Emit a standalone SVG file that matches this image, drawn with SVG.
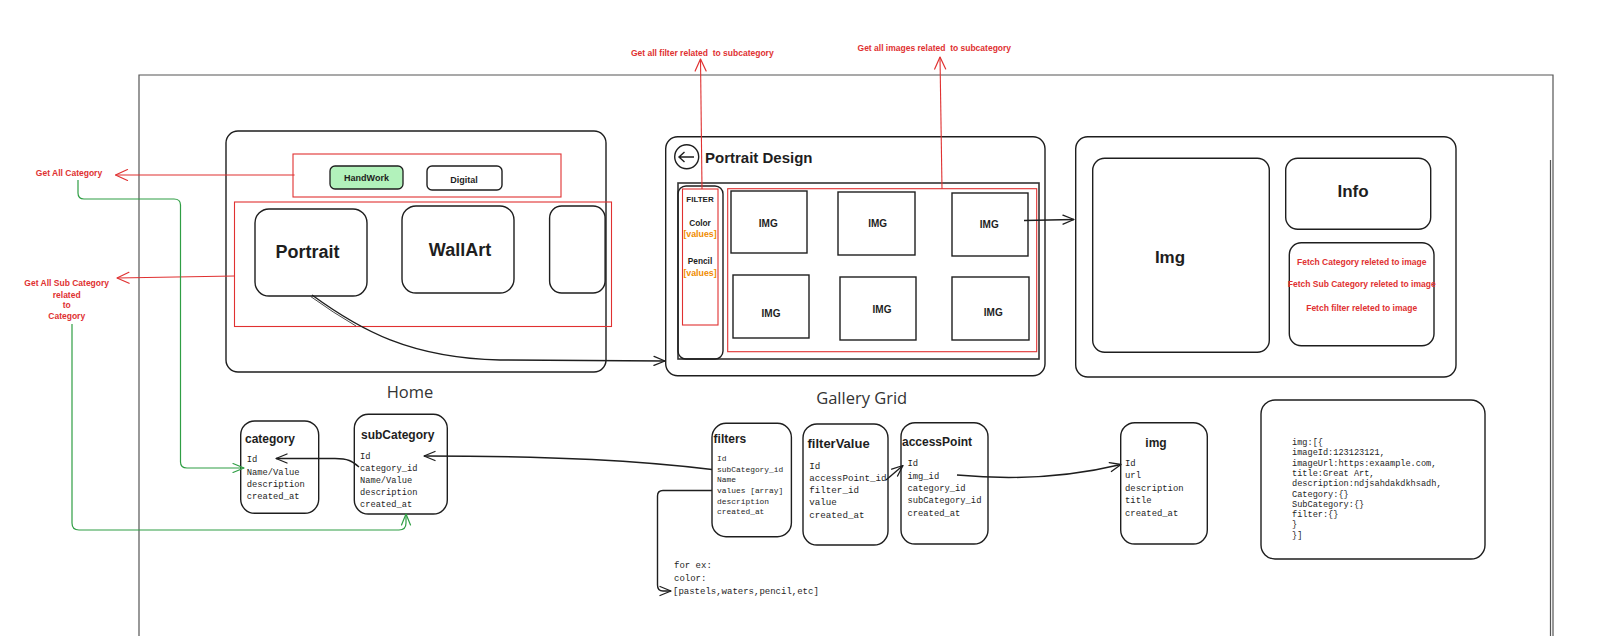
<svg xmlns="http://www.w3.org/2000/svg" width="1600" height="636" viewBox="0 0 1600 636">
<style>
.box{fill:none;stroke:#1e1e1e;stroke-width:1.4}
.frame{fill:none;stroke:#555;stroke-width:1.2}
.red{fill:none;stroke:#e03131;stroke-width:1.1}
.rl{font-family:"Liberation Sans",Arial,sans-serif;font-weight:bold;font-size:8.5px;fill:#e03131;text-anchor:middle}
.hd{font-family:"Liberation Sans",Arial,sans-serif;font-weight:bold;fill:#1e1e1e}
.mid{text-anchor:middle}
.mono{font-family:"Liberation Mono","Courier New",monospace;fill:#1e1e1e}
.cap{font-family:"Open Sans","Noto Sans",sans-serif;fill:#333;font-size:16.5px;text-anchor:middle}
.org{font-family:"Liberation Sans",Arial,sans-serif;font-weight:bold;font-size:8.8px;fill:#f08c00;text-anchor:middle}
.c-blk{fill:none;stroke:#1e1e1e;stroke-width:1.4;marker-end:url(#mb)}
.c-red{fill:none;stroke:#e03131;stroke-width:1.1;marker-end:url(#mr)}
.c-grn{fill:none;stroke:#2f9e44;stroke-width:1.2;marker-end:url(#mg)}
</style>
<defs>
<marker id="mb" viewBox="0 0 14 14" refX="13" refY="7" markerWidth="14" markerHeight="14" orient="auto" markerUnits="userSpaceOnUse"><path d="M2,2.5 L13,7 L2,11.5" fill="none" stroke="#1e1e1e" stroke-width="1.3" stroke-linecap="round" stroke-linejoin="round"/></marker>
<marker id="mr" viewBox="0 0 14 14" refX="13" refY="7" markerWidth="14" markerHeight="14" orient="auto" markerUnits="userSpaceOnUse"><path d="M1,1.5 L13,7 L1,12.5" fill="none" stroke="#e03131" stroke-width="1.2" stroke-linecap="round" stroke-linejoin="round"/></marker>
<marker id="mg" viewBox="0 0 14 14" refX="13" refY="7" markerWidth="14" markerHeight="14" orient="auto" markerUnits="userSpaceOnUse"><path d="M2,2.5 L13,7 L2,11.5" fill="none" stroke="#2f9e44" stroke-width="1.2" stroke-linecap="round" stroke-linejoin="round"/></marker>
</defs>
<rect width="1600" height="636" fill="#fff"/>

<g id="frame">
<path class="frame" d="M139 636 L139 75 L1553 75 L1553 636"/>
<path class="frame" d="M1550.5 160 L1550.5 636" stroke-width="0.8"/>
</g>

<g id="labels-left">
<text class="rl" x="69" y="175.5">Get All Category</text>
<text class="rl" x="66.7" y="286.3">Get All Sub Category</text>
<text class="rl" x="66.7" y="298">related</text>
<text class="rl" x="66.7" y="308">to</text>
<text class="rl" x="66.7" y="319">Category</text>
</g>

<g id="labels-top">
<text class="rl" x="702.3" y="56">Get all filter related&#160; to subcategory</text>
<text class="rl" x="934.3" y="51">Get all images related&#160; to subcategory</text>
</g>

<g id="home">
<rect class="box" x="226" y="131" width="380" height="241" rx="12"/>
<rect class="red" x="293" y="154" width="268" height="43"/>
<rect x="330" y="166" width="73" height="23" rx="5" fill="#b2f2bb" stroke="#1e1e1e" stroke-width="1.3"/>
<text class="hd mid" x="366.5" y="181" font-size="9">HandWork</text>
<rect class="box" x="427" y="166" width="75" height="24" rx="5" stroke-width="1.3"/>
<text class="hd mid" x="464" y="182.5" font-size="9">Digital</text>
<rect class="red" x="234.5" y="202" width="377" height="124.5"/>
<rect class="box" x="255" y="209" width="112" height="87" rx="14"/>
<text class="hd mid" x="307.6" y="258" font-size="18">Portrait</text>
<rect class="box" x="402" y="206" width="112" height="87" rx="14"/>
<text class="hd mid" x="460" y="255.5" font-size="18">WallArt</text>
<rect class="box" x="549.6" y="206" width="55.5" height="87" rx="12"/>
<text class="cap" x="410" y="397.5">Home</text>
</g>

<g id="gallery">
<rect class="box" x="665.7" y="136.7" width="379.3" height="239" rx="12"/>
<circle class="box" cx="686.7" cy="156.7" r="12"/>
<path class="box" d="M694 157 L679 157 M684.5 152 L679 157 L684.5 162" stroke-width="1.2"/>
<text class="hd" x="705" y="163" font-size="15">Portrait Design</text>
<rect x="678" y="183" width="361" height="176" fill="none" stroke="#333" stroke-width="1.6"/>
<rect class="box" x="678" y="186" width="45" height="173" rx="8"/>
<rect class="red" x="682.5" y="189" width="35.5" height="136"/>
<text class="hd mid" x="700" y="202" font-size="8">FILTER</text>
<text class="hd mid" x="700" y="225.5" font-size="8.3">Color</text>
<text class="org" x="700" y="237">[values]</text>
<text class="hd mid" x="700" y="264" font-size="8.3">Pencil</text>
<text class="org" x="700" y="276">[values]</text>
<rect class="red" x="727.7" y="188.7" width="309" height="163"/>
<rect class="box" x="731" y="191" width="76" height="62"/>
<rect class="box" x="838" y="192" width="77" height="63"/>
<rect class="box" x="952" y="193" width="76" height="63"/>
<rect class="box" x="733" y="275" width="76" height="63"/>
<rect class="box" x="840" y="277" width="76" height="63"/>
<rect class="box" x="952" y="277" width="77" height="63"/>
<text class="hd mid" x="768.3" y="226.5" font-size="10">IMG</text>
<text class="hd mid" x="877.7" y="226.5" font-size="10">IMG</text>
<text class="hd mid" x="989.3" y="227.5" font-size="10">IMG</text>
<text class="hd mid" x="771" y="316.8" font-size="10">IMG</text>
<text class="hd mid" x="882" y="312.5" font-size="10">IMG</text>
<text class="hd mid" x="993.3" y="316.2" font-size="10">IMG</text>
<text class="cap" x="861.7" y="404">Gallery Grid</text>
</g>

<g id="detail">
<rect class="box" x="1075.7" y="136.7" width="380.3" height="240.3" rx="12"/>
<rect class="box" x="1092.7" y="158.3" width="176.6" height="194" rx="12"/>
<text class="hd mid" x="1170" y="263" font-size="17">Img</text>
<rect class="box" x="1285.7" y="158.3" width="145" height="71" rx="12"/>
<text class="hd mid" x="1353" y="196.5" font-size="17">Info</text>
<rect class="box" x="1289.3" y="242.7" width="144.7" height="103" rx="12"/>
<text class="rl" x="1361.7" y="264.7">Fetch Category releted to image</text>
<text class="rl" x="1361.7" y="287">Fetch Sub Category releted to image</text>
<text class="rl" x="1361.7" y="311.3">Fetch filter releted to image</text>
</g>

<g id="category">
<rect class="box" x="240.7" y="421" width="78" height="92.3" rx="14"/>
<text class="hd" x="245" y="443" font-size="12">category</text>
<text class="mono" font-size="8.8"><tspan x="246.7" y="462">Id</tspan><tspan x="246.7" y="474.5">Name/Value</tspan><tspan x="246.7" y="487">description</tspan><tspan x="246.7" y="499.3">created_at</tspan></text>
</g>

<g id="subCategory">
<rect class="box" x="354.3" y="414.3" width="93" height="99.7" rx="14"/>
<text class="hd" x="361" y="438.5" font-size="12">subCategory</text>
<text class="mono" font-size="8.7"><tspan x="360" y="458.7">Id</tspan><tspan x="360" y="470.7">category_id</tspan><tspan x="360" y="483">Name/Value</tspan><tspan x="360" y="495">description</tspan><tspan x="360" y="507">created_at</tspan></text>
</g>

<g id="filters">
<rect class="box" x="712" y="423.3" width="79.4" height="113.4" rx="14"/>
<text class="hd" x="713.6" y="442.5" font-size="12">filters</text>
<text class="mono" font-size="7.9"><tspan x="717" y="461">Id</tspan><tspan x="717" y="472">subCategory_id</tspan><tspan x="717" y="482.4">Name</tspan><tspan x="717" y="492.8">values [array]</tspan><tspan x="717" y="503.8">description</tspan><tspan x="717" y="514.2">created_at</tspan></text>
</g>

<g id="filterValue">
<rect class="box" x="803" y="424" width="85" height="121" rx="14"/>
<text class="hd" x="807.5" y="448" font-size="13">filterValue</text>
<text class="mono" font-size="9.2"><tspan x="809.3" y="468.7">Id</tspan><tspan x="809.3" y="480.9">accessPoint_id</tspan><tspan x="809.3" y="493.1">filter_id</tspan><tspan x="809.3" y="505.3">value</tspan><tspan x="809.3" y="517.5">created_at</tspan></text>
</g>

<g id="accessPoint">
<rect class="box" x="901" y="422.7" width="87" height="121.3" rx="14"/>
<text class="hd" x="902" y="446" font-size="12">accessPoint</text>
<text class="mono" font-size="8.8"><tspan x="907.5" y="466.3">Id</tspan><tspan x="907.5" y="478.6">img_id</tspan><tspan x="907.5" y="490.9">category_id</tspan><tspan x="907.5" y="503.2">subCategory_id</tspan><tspan x="907.5" y="515.5">created_at</tspan></text>
</g>

<g id="img">
<rect class="box" x="1120.7" y="422.7" width="86.6" height="121.3" rx="14"/>
<text class="hd mid" x="1156" y="446.7" font-size="12">img</text>
<text class="mono" font-size="8.9"><tspan x="1125" y="465.7">Id</tspan><tspan x="1125" y="478.2">url</tspan><tspan x="1125" y="490.7">description</tspan><tspan x="1125" y="503.2">title</tspan><tspan x="1125" y="515.7">created_at</tspan></text>
</g>

<g id="json">
<rect class="box" x="1261" y="400" width="224" height="159" rx="14"/>
<text class="mono" font-size="8.6"><tspan x="1292" y="445">img:[{</tspan><tspan x="1292" y="455.3">imageId:123123121,</tspan><tspan x="1292" y="465.6">imageUrl:https:exaample.com,</tspan><tspan x="1292" y="475.9">title:Great Art,</tspan><tspan x="1292" y="486.2">description:ndjsahdakdkhsadh,</tspan><tspan x="1292" y="496.5">Category:{}</tspan><tspan x="1292" y="506.8">SubCategory:{}</tspan><tspan x="1292" y="517.1">filter:{}</tspan><tspan x="1292" y="527.4">}</tspan><tspan x="1292" y="537.7">}]</tspan></text>
</g>

<g id="example">
<text class="mono" font-size="9"><tspan x="674" y="567.5">for ex:</tspan><tspan x="674" y="580.5">color:</tspan><tspan x="673" y="593.5">[pastels,waters,pencil,etc]</tspan></text>
</g>

<g id="connectors">
<path class="c-red" d="M294.6 175 L115.5 175"/>
<path class="c-red" d="M234.5 276 L117 278"/>
<path class="c-red" d="M702 189 L700.5 59"/>
<path class="c-red" d="M942 188.7 L940 57"/>
<path class="c-grn" d="M78 180 L78 193 Q78 199 84 199 L174 199 Q180.5 199 180.5 205 L180.5 462 Q180.5 468 187 468 L244 468"/>
<path class="c-grn" d="M72 324 L72 523 Q72 530 79 530 L399 530 Q406 530 406 523 L406 514"/>
<path class="c-blk" d="M312 295 C360 330 410 358 500 360 L665 361"/>
<path d="M310.8 296.6 Q333 312.6 356 326" fill="none" stroke="#1e1e1e" stroke-width="0.8"/>
<path class="c-blk" d="M1024 220.5 L1074 219.5"/>
<path class="c-blk" d="M359 467 C352 461 348 458.5 335 458.5 L276 458.5"/>
<path class="c-blk" d="M712 469.5 C640 461 560 456 424 456"/>
<path class="c-blk" d="M712 490.5 L663 490.5 Q657.5 490.5 657.5 496 L657.5 585 Q657.5 591 663 591 L671 591" stroke-width="1.1"/>
<path class="c-blk" d="M886 480 L903 465.5"/>
<path class="c-blk" d="M957 475 C1010 480 1065 478 1121 464.5"/>
</g>
</svg>
